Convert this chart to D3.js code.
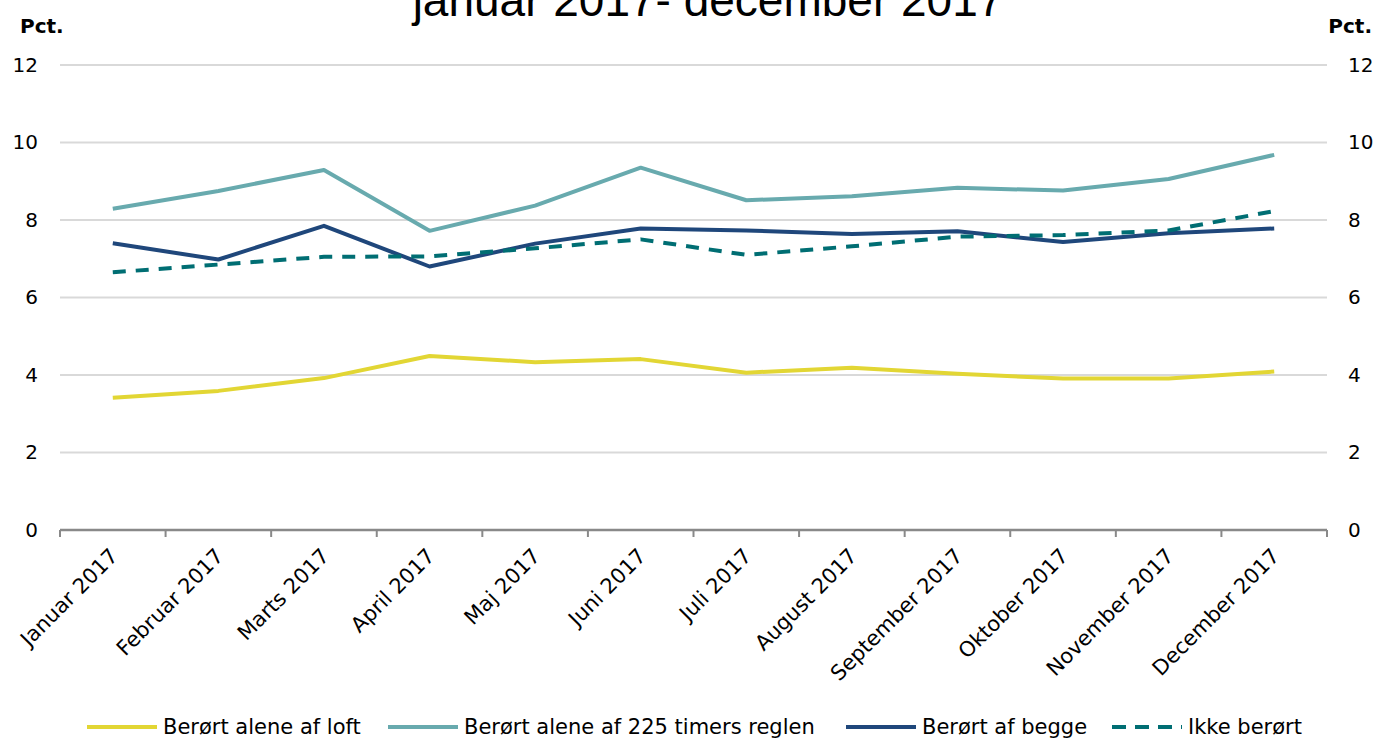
<!DOCTYPE html>
<html>
<head>
<meta charset="utf-8">
<script src="https://cdn.jsdelivr.net/npm/d3@7"></script>
<style>
  body { margin: 0; background: #fff; }
  svg { display: block; }
  text { font-family: 'DejaVu Sans', Verdana, sans-serif; fill: #000; }
</style>
</head>
<body>
<div id="canvas"></div>
<script>
const months = [
  'Januar 2017', 'Februar 2017', 'Marts 2017', 'April 2017',
  'Maj 2017', 'Juni 2017', 'Juli 2017', 'August 2017',
  'September 2017', 'Oktober 2017', 'November 2017', 'December 2017'
]

const loft = [3.41, 3.59, 3.92, 4.49, 4.33, 4.41, 4.06, 4.19, 4.03, 3.91, 3.91, 4.09]
const timer225 = [8.29, 8.75, 9.29, 7.72, 8.37, 9.35, 8.51, 8.61, 8.83, 8.76, 9.06, 9.68]
const begge = [7.40, 6.98, 7.85, 6.80, 7.39, 7.78, 7.73, 7.64, 7.71, 7.43, 7.66, 7.78]
const ikke = [6.65, 6.85, 7.05, 7.06, 7.27, 7.50, 7.10, 7.32, 7.57, 7.61, 7.73, 8.23]

const seriesNames = [
  'Berørt alene af loft',
  'Berørt alene af 225 timers reglen',
  'Berørt af begge',
  'Ikke berørt'
]
const yTicks = [0, 2, 4, 6, 8, 10, 12]

const series = [
  { name: seriesNames[0], values: loft, color: '#e2d634', dash: null },
  { name: seriesNames[1], values: timer225, color: '#68aaae', dash: null },
  { name: seriesNames[2], values: begge, color: '#1f477b', dash: null },
  { name: seriesNames[3], values: ikke, color: '#006e73', dash: '13,10' }
]

const width = 1375
const height = 738
const margin = { top: 65, right: 48, bottom: 208, left: 60 }

const svg = d3.select('#canvas')
  .append('svg')
    .attr('width', width)
    .attr('height', height)

const x = d3.scaleBand()
  .domain(months)
  .range([margin.left, width - margin.right])

const y = d3.scaleLinear()
  .domain([0, 12])
  .range([height - margin.bottom, margin.top])

// title (cut off at the top in the original)
svg.append('text')
  .attr('x', 708)
  .attr('y', 16)
  .attr('text-anchor', 'middle')
  .style('font-family', "'Liberation Sans', Arial, sans-serif")
  .style('font-size', '46px')
  .text('januar 2017- december 2017')

// gridlines
svg.append('g')
  .selectAll('line')
  .data(yTicks.filter(d => d > 0))
  .join('line')
    .attr('x1', margin.left)
    .attr('x2', width - margin.right)
    .attr('y1', d => y(d))
    .attr('y2', d => y(d))
    .attr('stroke', '#d9d9d9')
    .attr('stroke-width', 2)

// left and right tick labels
const leftAxis = svg.append('g')
  .attr('transform', `translate(${margin.left}, 0)`)
  .call(d3.axisLeft(y).tickValues(yTicks).tickSize(0).tickPadding(22))
leftAxis.select('.domain').remove()

const rightAxis = svg.append('g')
  .attr('transform', `translate(${width - margin.right}, 0)`)
  .call(d3.axisRight(y).tickValues(yTicks).tickSize(0).tickPadding(21))
rightAxis.select('.domain').remove()

svg.selectAll('.tick text')
  .style('font-family', "'DejaVu Sans', Verdana, sans-serif")
  .style('font-size', '20px')
  .attr('fill', '#000')

// unit labels
svg.append('text')
  .attr('x', 20)
  .attr('y', 33)
  .style('font-size', '20px')
  .style('font-weight', 'bold')
  .text('Pct.')
svg.append('text')
  .attr('x', 1372)
  .attr('y', 33)
  .attr('text-anchor', 'end')
  .style('font-size', '20px')
  .style('font-weight', 'bold')
  .text('Pct.')

// x axis line and ticks at band edges
const xAxisG = svg.append('g')
const y0 = y(0)
xAxisG.append('line')
  .attr('x1', margin.left)
  .attr('x2', width - margin.right)
  .attr('y1', y0)
  .attr('y2', y0)
  .attr('stroke', '#898989')
  .attr('stroke-width', 2.5)
xAxisG.selectAll('line.tick')
  .data(months.concat(['end']))
  .join('line')
    .attr('class', 'tick')
    .attr('x1', d => d === 'end' ? x.range()[1] : x(d))
    .attr('x2', d => d === 'end' ? x.range()[1] : x(d))
    .attr('y1', y0)
    .attr('y2', y0 + 7)
    .attr('stroke', '#898989')
    .attr('stroke-width', 2)

xAxisG.selectAll('text')
  .data(months)
  .join('text')
    .attr('transform', d => `translate(${x(d) + x.bandwidth() / 2 - 4}, ${y0 + 17}) rotate(-45)`)
    .attr('text-anchor', 'end')
    .attr('dy', '0.7em')
    .style('font-size', '21px')
    .text(d => d)

// lines
const line = d3.line()
  .x((d, i) => x(months[i]) + x.bandwidth() / 2)
  .y(d => y(d))

svg.append('g')
  .selectAll('path')
  .data(series)
  .join('path')
    .attr('d', d => line(d.values))
    .attr('fill', 'none')
    .attr('stroke', d => d.color)
    .attr('stroke-width', 4)
    .attr('stroke-linejoin', 'round')
    .attr('stroke-dasharray', d => d.dash)

// legend
const legendX = [87, 388, 846, 1112]
const legend = svg.append('g')
  .selectAll('g')
  .data(series)
  .join('g')
    .attr('transform', (d, i) => `translate(${legendX[i]}, 727)`)

legend.append('line')
  .attr('x1', 0)
  .attr('x2', 70)
  .attr('stroke', d => d.color)
  .attr('stroke-width', 4)
  .attr('stroke-dasharray', d => d.dash ? '14,9' : null)

legend.append('text')
  .attr('x', 76)
  .attr('dy', '0.35em')
  .style('font-size', '21px')
  .text(d => d.name)
</script>
</body>
</html>
